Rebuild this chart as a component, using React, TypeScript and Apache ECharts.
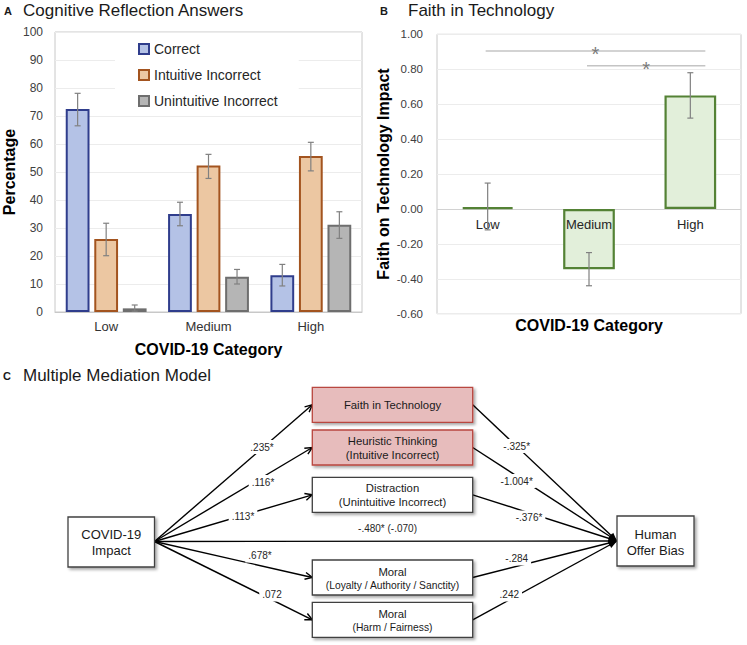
import React, { useEffect, useRef } from 'react';
import * as echarts from 'echarts';

// ---------- Panel A data ----------
const categories = ['Low', 'Medium', 'High'];
const answerTypes = ['Correct', 'Intuitive Incorrect', 'Unintuitive Incorrect'];
const correctPct = [72.5, 35.0, 13.1];
const intuitivePct = [26.1, 52.3, 55.7];
const unintuitivePct = [1.3, 12.6, 31.2];
const correctErr = [[66.5, 78.1], [30.8, 39.2], [9.3, 17.0]];
const intuitiveErr = [[20.1, 31.7], [47.7, 56.3], [50.4, 60.6]];
const unintuitiveErr = [[0.3, 2.5], [10.0, 15.2], [26.3, 35.8]];
const percentTicks = [0, 10, 20, 30, 40, 50, 60, 70, 80, 90, 100];

// ---------- Panel B data ----------
const faithMeans = [0.01, -0.345, 0.65];
const faithErr = [[-0.12, 0.148], [-0.44, -0.25], [0.52, 0.78]];
const faithTicks = [-0.6, -0.4, -0.2, 0, 0.2, 0.4, 0.6, 0.8, 1.0];
const sigComparisons = [[0, 2, 0.905], [1, 2, 0.82]];

// ---------- Panel C data ----------
const sourceLines = ['COVID-19', 'Impact'];
const outcomeLines = ['Human', 'Offer Bias'];
const mediatorTitles = ['Faith in Technology', 'Heuristic Thinking', 'Distraction', 'Moral', 'Moral'];
const mediatorSubtitles = ['', '(Intuitive Incorrect)', '(Unintuitive Incorrect)', '(Loyalty / Authority / Sanctity)', '(Harm / Fairness)'];
const mediatorHighlighted = [true, true, false, false, false];
const pathA = ['.235*', '.116*', '.113*', '.678*', '.072'];
const pathB = ['-.325*', '-1.004*', '-.376*', '-.284', '.242'];
const directEffect = '-.480* (-.070)';

const FONT = '"Liberation Sans", Arial, Helvetica, sans-serif';

const barStyles = [
  { fill: '#b4c2e6', border: '#2f3d8c' },
  { fill: '#ecc7a2', border: '#a3541f' },
  { fill: '#b5b5b5', border: '#6e6e6e' },
];

function errRender(seriesIdx: number, n: number, barGap: number, catGap: number) {
  return (params: any, api: any) => {
    const xi = api.value(0);
    const lo = api.coord([xi, api.value(1)]);
    const hi = api.coord([xi, api.value(2)]);
    const band = api.size([1, 0])[0];
    const barW = (band * (1 - catGap)) / (n + (n - 1) * barGap);
    const cx = lo[0] + (seriesIdx - (n - 1) / 2) * barW * (1 + barGap);
    const cap = 3;
    const style = { stroke: '#808080', lineWidth: 1.2 };
    return {
      type: 'group',
      children: [
        { type: 'line', shape: { x1: cx, y1: lo[1], x2: cx, y2: hi[1] }, style },
        { type: 'line', shape: { x1: cx - cap, y1: lo[1], x2: cx + cap, y2: lo[1] }, style },
        { type: 'line', shape: { x1: cx - cap, y1: hi[1], x2: cx + cap, y2: hi[1] }, style },
      ],
    };
  };
}

function sigRender(params: any, api: any) {
  const p1 = api.coord([api.value(0), api.value(2)]);
  const p2 = api.coord([api.value(1), api.value(2)]);
  const x1 = p1[0] - 2;
  const x2 = p2[0] + 15;
  return {
    type: 'group',
    children: [
      { type: 'line', shape: { x1, y1: p1[1], x2, y2: p1[1] }, style: { stroke: '#c4c4c4', lineWidth: 1.5 } },
      {
        type: 'text',
        x: (x1 + x2) / 2,
        y: p1[1] + 3,
        style: { text: '*', fill: '#7a7a7a', font: `20px ${FONT}`, align: 'center', verticalAlign: 'middle' },
      },
    ],
  };
}

function arrowHead(x: number, y: number, fx: number, fy: number, filled: boolean) {
  const ang = Math.atan2(y - fy, x - fx);
  const len = filled ? 9 : 8;
  const half = filled ? 0.38 : 0.45;
  const p1 = [x - len * Math.cos(ang - half), y - len * Math.sin(ang - half)];
  const p2 = [x - len * Math.cos(ang + half), y - len * Math.sin(ang + half)];
  if (filled) {
    return { type: 'polygon', shape: { points: [p1, [x, y], p2] }, style: { fill: '#000' } };
  }
  return { type: 'polyline', shape: { points: [p1, [x, y], p2] }, style: { stroke: '#000', lineWidth: 1.4, fill: null } };
}

function buildDiagram() {
  const els: any[] = [];
  const src = { x: 68, y: 517, w: 86.5, h: 50 };
  const out = { x: 617, y: 516, w: 77, h: 50 };
  const med = { x: 312.3, w: 160.4, h: 35, tops: [387.3, 430, 477.3, 560, 602.3] };
  const ox = src.x + src.w;
  const oy = 541.5;
  const tx = out.x;
  const ty = 541;
  const labelA = [[262, 447], [263, 482], [243, 516], [260, 555.5], [272, 594.5]];
  const labelB = [[516.7, 446], [516.7, 481], [529, 517.5], [516.7, 558.5], [509.3, 594.5]];
  const lineStyle = { stroke: '#000', lineWidth: 1.4 };
  const labelFont = `10px ${FONT}`;
  const lines: any[] = [];
  const heads: any[] = [];
  const labels: any[] = [];
  mediatorTitles.forEach((t, i) => {
    const my = med.tops[i] + med.h / 2;
    lines.push({ type: 'line', shape: { x1: ox, y1: oy, x2: med.x, y2: my }, style: lineStyle });
    heads.push(arrowHead(med.x, my, ox, oy, false));
    const mx = med.x + med.w;
    lines.push({ type: 'line', shape: { x1: mx, y1: my, x2: tx, y2: ty }, style: lineStyle });
    heads.push(arrowHead(tx, ty, mx, my, true));
    labels.push({
      type: 'text', x: labelA[i][0], y: labelA[i][1],
      style: { text: pathA[i], fill: '#262626', font: labelFont, align: 'center', verticalAlign: 'middle', backgroundColor: '#fff', padding: [2, 3] },
    });
    labels.push({
      type: 'text', x: labelB[i][0], y: labelB[i][1],
      style: { text: pathB[i], fill: '#262626', font: labelFont, align: 'center', verticalAlign: 'middle', backgroundColor: '#fff', padding: [2, 3] },
    });
  });
  lines.push({ type: 'line', shape: { x1: ox, y1: oy, x2: tx, y2: ty }, style: lineStyle });
  heads.push(arrowHead(tx, ty, ox, oy, true));
  labels.push({
    type: 'text', x: 387.5, y: 528.5,
    style: { text: directEffect, fill: '#262626', font: labelFont, align: 'center', verticalAlign: 'middle' },
  });
  els.push(...lines, ...heads, ...labels);

  const shadow = { shadowBlur: 3, shadowOffsetX: 2, shadowOffsetY: 2, shadowColor: 'rgba(0,0,0,0.35)' };
  els.push({ type: 'rect', shape: { x: src.x, y: src.y, width: src.w, height: src.h }, style: { fill: '#fff', stroke: '#404040', lineWidth: 1.3, ...shadow } });
  sourceLines.forEach((t, k) => {
    els.push({ type: 'text', x: src.x + src.w / 2, y: src.y + 17 + k * 16, style: { text: t, fill: '#1a1a1a', font: `13px ${FONT}`, align: 'center', verticalAlign: 'middle' } });
  });
  els.push({ type: 'rect', shape: { x: out.x, y: out.y, width: out.w, height: out.h }, style: { fill: '#fff', stroke: '#404040', lineWidth: 1.3, ...shadow } });
  outcomeLines.forEach((t, k) => {
    els.push({ type: 'text', x: out.x + out.w / 2, y: out.y + 18 + k * 16, style: { text: t, fill: '#1a1a1a', font: `13px ${FONT}`, align: 'center', verticalAlign: 'middle' } });
  });
  mediatorTitles.forEach((t, i) => {
    const top = med.tops[i];
    const hl = mediatorHighlighted[i];
    els.push({
      type: 'rect', shape: { x: med.x, y: top, width: med.w, height: med.h },
      style: { fill: hl ? '#e7bcbc' : '#fff', stroke: hl ? '#b9473f' : '#404040', lineWidth: 1.3, ...shadow },
    });
    const cx = med.x + med.w / 2;
    const sub = mediatorSubtitles[i];
    const isMoral = t === 'Moral';
    if (sub) {
      els.push({ type: 'text', x: cx, y: top + (isMoral ? 11.5 : 11), style: { text: t, fill: '#1a1a1a', font: `11.3px ${FONT}`, align: 'center', verticalAlign: 'middle' } });
      els.push({ type: 'text', x: cx, y: top + 25, style: { text: sub, fill: '#1a1a1a', font: `${isMoral ? 10.3 : 11.3}px ${FONT}`, align: 'center', verticalAlign: 'middle' } });
    } else {
      els.push({ type: 'text', x: cx, y: top + med.h / 2, style: { text: t, fill: '#1a1a1a', font: `11.3px ${FONT}`, align: 'center', verticalAlign: 'middle' } });
    }
  });
  return els;
}

function titleEls() {
  const mk = (text: string, x: number, y: number, size: number, bold: boolean) => ({
    type: 'text', x, y,
    style: { text, fill: '#1a1a1a', font: `${bold ? 'bold ' : ''}${size}px ${FONT}`, align: 'left', verticalAlign: 'middle' },
  });
  return [
    mk('A', 4, 10.5, 11, true),
    mk('Cognitive Reflection Answers', 23, 10, 17, false),
    mk('B', 380, 10.5, 11, true),
    mk('Faith in Technology', 408, 10, 17, false),
    mk('C', 3, 375.5, 11, true),
    mk('Multiple Mediation Model', 23, 375, 17, false),
  ];
}

export default function App() {
  const ref = useRef<HTMLDivElement>(null);
  useEffect(() => {
    document.body.style.margin = '0';
    if (!ref.current) return;
    const chart = echarts.init(ref.current, null, { renderer: 'svg' });
    const aVals = [correctPct, intuitivePct, unintuitivePct];
    const aErrs = [correctErr, intuitiveErr, unintuitiveErr];
    const barGap = 0.2;
    const catGap = 0.21;
    const gridBHeight = 279.4;
    const fMin = faithTicks[0];
    const fMax = faithTicks[faithTicks.length - 1];
    const zeroOffset = -gridBHeight * (0 - fMin) / (fMax - fMin);
    const splitColorsB = faithTicks.map((v) => (Math.abs(v) < 1e-9 ? '#d2d2d2' : '#ececec'));
    const option: any = {
      animation: false,
      textStyle: { fontFamily: FONT },
      legend: {
        data: answerTypes,
        orient: 'vertical',
        left: 115,
        top: 36,
        backgroundColor: '#fff',
        padding: [6, 21, 8, 23],
        itemWidth: 10,
        itemHeight: 10,
        itemGap: 12,
        icon: 'rect',
        textStyle: { fontSize: 14, color: '#262626', fontFamily: FONT },
        selectedMode: false,
      },
      grid: [
        { left: 55, top: 32, width: 307, height: 280, show: true, borderColor: '#c8c8c8', borderWidth: 1 },
        { left: 437, top: 34.3, width: 304, height: gridBHeight, show: true, borderColor: '#c8c8c8', borderWidth: 1 },
      ],
      xAxis: [
        {
          type: 'category', gridIndex: 0, data: categories,
          axisTick: { show: false },
          axisLine: { lineStyle: { color: '#c8c8c8' } },
          axisLabel: { fontSize: 13, color: '#333', margin: 8 },
          name: 'COVID-19 Category', nameLocation: 'middle', nameGap: 29,
          nameTextStyle: { fontSize: 16, fontWeight: 'bold', color: '#000' },
        },
        {
          type: 'category', gridIndex: 1, data: categories, z: 5,
          position: 'bottom', offset: zeroOffset,
          axisTick: { show: false },
          axisLine: { show: false, onZero: false },
          axisLabel: { fontSize: 13, color: '#262626', margin: 9 },
          name: 'COVID-19 Category', nameLocation: 'middle', nameGap: 109,
          nameTextStyle: { fontSize: 16, fontWeight: 'bold', color: '#000' },
        },
      ],
      yAxis: [
        {
          type: 'value', gridIndex: 0,
          min: percentTicks[0], max: percentTicks[percentTicks.length - 1], interval: percentTicks[1] - percentTicks[0],
          axisLabel: { fontSize: 12, color: '#404040', margin: 12 },
          axisLine: { show: false }, axisTick: { show: false },
          splitLine: { lineStyle: { color: '#ececec' } },
          name: 'Percentage', nameLocation: 'middle', nameGap: 38, nameRotate: 90,
          nameTextStyle: { fontSize: 16, fontWeight: 'bold', color: '#000' },
        },
        {
          type: 'value', gridIndex: 1,
          min: fMin, max: fMax, interval: 0.2,
          axisLabel: { fontSize: 11.5, color: '#404040', margin: 14, formatter: (v: number) => v.toFixed(2) },
          axisLine: { show: false }, axisTick: { show: false },
          splitLine: { lineStyle: { color: splitColorsB } },
          name: 'Faith on Technology Impact', nameLocation: 'middle', nameGap: 46, nameRotate: 90,
          nameTextStyle: { fontSize: 16, fontWeight: 'bold', color: '#000' },
        },
      ],
      series: [
        ...answerTypes.map((name, s) => ({
          type: 'bar', name, xAxisIndex: 0, yAxisIndex: 0,
          data: aVals[s],
          barGap: `${barGap * 100}%`, barCategoryGap: `${catGap * 100}%`,
          itemStyle: { color: barStyles[s].fill, borderColor: barStyles[s].border, borderWidth: 2 },
        })),
        ...answerTypes.map((name, s) => ({
          type: 'custom', xAxisIndex: 0, yAxisIndex: 0, z: 5,
          renderItem: errRender(s, 3, barGap, catGap),
          encode: { x: 0, y: [1, 2] },
          data: categories.map((c, i) => [i, aErrs[s][i][0], aErrs[s][i][1]]),
          silent: true,
        })),
        {
          type: 'bar', name: 'Faith', xAxisIndex: 1, yAxisIndex: 1,
          data: faithMeans, barCategoryGap: '49%',
          itemStyle: { color: '#e2efda', borderColor: '#548235', borderWidth: 2.2 },
        },
        {
          type: 'custom', xAxisIndex: 1, yAxisIndex: 1, z: 6,
          renderItem: errRender(0, 1, 0, 0.49),
          encode: { x: 0, y: [1, 2] },
          data: categories.map((c, i) => [i, faithErr[i][0], faithErr[i][1]]),
          silent: true,
        },
        {
          type: 'custom', xAxisIndex: 1, yAxisIndex: 1, z: 6,
          renderItem: sigRender,
          encode: { x: [0, 1], y: 2 },
          data: sigComparisons,
          silent: true,
        },
      ],
      graphic: [...titleEls(), ...buildDiagram()],
    };
    chart.setOption(option);
    return () => chart.dispose();
  }, []);
  return <div ref={ref} style={{ width: 747, height: 645, background: '#fff' }} />;
}
